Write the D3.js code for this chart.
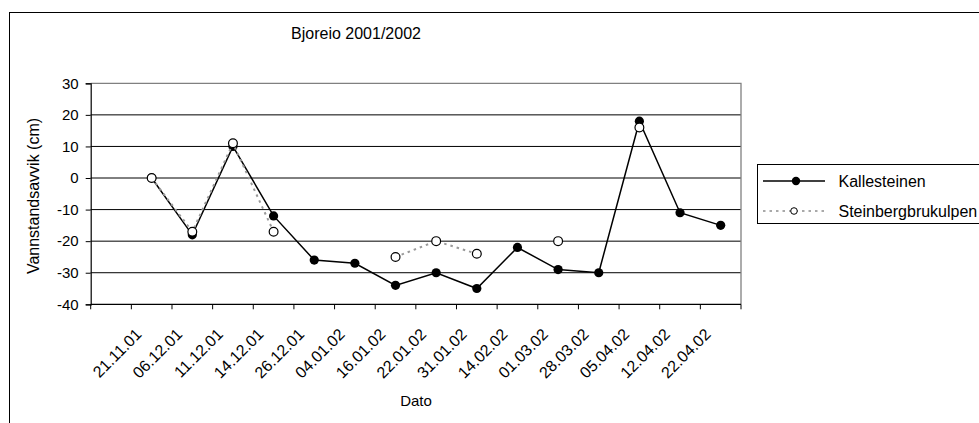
<!DOCTYPE html>
<html>
<head>
<meta charset="utf-8">
<script src="https://cdn.jsdelivr.net/npm/d3@7"></script>
<style>
  html, body { margin: 0; padding: 0; background: #fff; }
  svg { display: block; }
  text { font-family: Arial, "Liberation Sans", sans-serif; fill: #000; }
</style>
</head>
<body>
<svg id="chart" width="979" height="423"></svg>
<script>
// Measurement dates (first category is an empty slot on the axis)
const categories = ["", "21.11.01", "06.12.01", "11.12.01", "14.12.01", "26.12.01",
  "04.01.02", "16.01.02", "22.01.02", "31.01.02", "14.02.02", "01.03.02",
  "28.03.02", "05.04.02", "12.04.02", "22.04.02"];

// Water level deviation (cm)
const kallesteinen = [null, 0, -18, 10, -12, -26, -27, -34, -30, -35, -22, -29, -30, 18, -11, -15];
const steinbergbrukulpen = [null, 0, -17, 11, -17, null, null, -25, -20, -24, null, -20, null, 16, null, null];

const yTicks = [-40, -30, -20, -10, 0, 10, 20, 30];

const seriesNames = ["Kallesteinen", "Steinbergbrukulpen"];

const svg = d3.select("#chart");

// Outer chart frame
svg.append("rect")
  .attr("x", 9.5).attr("y", 12.5)
  .attr("width", 1000).attr("height", 500)
  .attr("fill", "#fff").attr("stroke", "#000").attr("stroke-width", 1);

const plot = { left: 90.7, right: 741, top: 83.3, bottom: 304.3 };

const x = d3.scaleBand()
  .domain(d3.range(categories.length))
  .range([plot.left, plot.right])
  .paddingInner(0).paddingOuter(0);

const y = d3.scaleLinear()
  .domain([-40, 30])
  .range([plot.bottom, plot.top]);

const cx = i => x(i) + x.bandwidth() / 2;

// Horizontal gridlines
svg.append("g")
  .selectAll("line")
  .data(yTicks.filter(v => v !== -40 && v !== 30))
  .join("line")
  .attr("x1", plot.left).attr("x2", plot.right)
  .attr("y1", d => y(d)).attr("y2", d => y(d))
  .attr("stroke", "#000").attr("stroke-width", 1);

// Plot area border (top and right)
svg.append("path")
  .attr("d", `M${plot.left},${y(30)}H${plot.right}V${plot.bottom}`)
  .attr("fill", "none").attr("stroke", "#808080").attr("stroke-width", 1.3);

// Y axis
const yAxis = d3.axisLeft(y)
  .tickValues(yTicks)
  .tickSize(5)
  .tickPadding(7)
  .tickFormat(d => String(d));

const gy = svg.append("g")
  .attr("transform", `translate(${plot.left},0)`)
  .call(yAxis);
gy.select(".domain").attr("stroke", "#000").attr("stroke-width", 1.2);
gy.selectAll(".tick line").attr("stroke", "#000");
gy.selectAll(".tick text")
  .style("font-family", "Arial, 'Liberation Sans', sans-serif")
  .style("font-size", "15px")
  .attr("fill", "#000");

// X axis line and category boundary ticks
const gx = svg.append("g");
gx.append("line")
  .attr("x1", plot.left).attr("x2", plot.right)
  .attr("y1", plot.bottom).attr("y2", plot.bottom)
  .attr("stroke", "#000").attr("stroke-width", 1.2);

const boundaries = d3.range(categories.length).map(i => x(i)).concat([plot.right]);
gx.selectAll("line.tick")
  .data(boundaries)
  .join("line")
  .attr("class", "tick")
  .attr("x1", d => d).attr("x2", d => d)
  .attr("y1", plot.bottom).attr("y2", plot.bottom + 5)
  .attr("stroke", "#000").attr("stroke-width", 1);

gx.selectAll("text")
  .data(categories)
  .join("text")
  .attr("transform", (d, i) => `translate(${cx(i) - 9},${plot.bottom + 31}) rotate(-45)`)
  .attr("text-anchor", "end")
  .style("font-size", "16px")
  .text(d => d);

// Axis titles and chart title
svg.append("text")
  .attr("x", 356).attr("y", 39)
  .attr("text-anchor", "middle")
  .style("font-size", "16px")
  .text("Bjoreio 2001/2002");

svg.append("text")
  .attr("transform", "translate(38.5,196) rotate(-90)")
  .attr("text-anchor", "middle")
  .style("font-size", "16px")
  .text("Vannstandsavvik (cm)");

svg.append("text")
  .attr("x", 416).attr("y", 406)
  .attr("text-anchor", "middle")
  .style("font-size", "15px")
  .text("Dato");

// Series lines
const line = d3.line()
  .defined(d => d.v !== null)
  .x(d => cx(d.i))
  .y(d => y(d.v));

const kData = kallesteinen.map((v, i) => ({ i, v }));
const sData = steinbergbrukulpen.map((v, i) => ({ i, v }));

svg.append("path")
  .datum(kData)
  .attr("d", line)
  .attr("fill", "none").attr("stroke", "#000").attr("stroke-width", 1.5);

svg.append("g")
  .selectAll("circle")
  .data(kData.filter(d => d.v !== null))
  .join("circle")
  .attr("cx", d => cx(d.i)).attr("cy", d => y(d.v))
  .attr("r", 4.6)
  .attr("fill", "#000");

svg.append("path")
  .datum(sData)
  .attr("d", line)
  .attr("fill", "none").attr("stroke", "#999").attr("stroke-width", 2)
  .attr("stroke-dasharray", "2.5,4");

svg.append("g")
  .selectAll("circle")
  .data(sData.filter(d => d.v !== null))
  .join("circle")
  .attr("cx", d => cx(d.i)).attr("cy", d => y(d.v))
  .attr("r", 4.4)
  .attr("fill", "#fff").attr("stroke", "#000").attr("stroke-width", 1.2);

// Legend
const legend = svg.append("g");
legend.append("rect")
  .attr("x", 757.5).attr("y", 164.5)
  .attr("width", 260).attr("height", 59)
  .attr("fill", "#fff").attr("stroke", "#000").attr("stroke-width", 1);

const rows = [181, 211];

legend.append("line")
  .attr("x1", 763).attr("x2", 825)
  .attr("y1", rows[0]).attr("y2", rows[0])
  .attr("stroke", "#000").attr("stroke-width", 1.5);
legend.append("circle")
  .attr("cx", 796).attr("cy", rows[0]).attr("r", 4.2).attr("fill", "#000");

legend.append("line")
  .attr("x1", 763).attr("x2", 825)
  .attr("y1", rows[1]).attr("y2", rows[1])
  .attr("stroke", "#555").attr("stroke-width", 1.2)
  .attr("stroke-dasharray", "2.5,4");
legend.append("circle")
  .attr("cx", 794).attr("cy", rows[1]).attr("r", 3.3)
  .attr("fill", "#fff").attr("stroke", "#000").attr("stroke-width", 1);

legend.selectAll("text")
  .data(seriesNames)
  .join("text")
  .attr("x", 838.5)
  .attr("y", (d, i) => rows[i])
  .attr("dy", "0.36em")
  .style("font-size", "16px")
  .text(d => d);
</script>
</body>
</html>
